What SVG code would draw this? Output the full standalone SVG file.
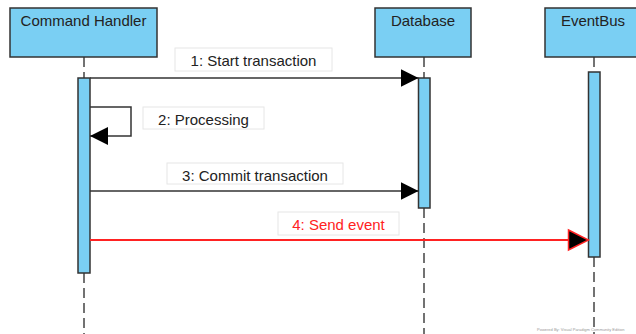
<svg xmlns="http://www.w3.org/2000/svg" width="636" height="334" viewBox="0 0 636 334">
<style>
.hd{fill:#7acff3;stroke:#333;stroke-width:1.5}
.act{fill:#7acff3;stroke:#333;stroke-width:1.5}
.life{stroke:#444;stroke-width:1.5;stroke-dasharray:10,5;fill:none}
.t{font-family:"Liberation Sans",Arial,sans-serif;font-size:15px;fill:#222}
.lb{fill:#fff;stroke:#e6e6e6;stroke-width:1}
.msg{stroke:#333;stroke-width:1.5;fill:none}
</style>
<defs>
<marker id="ah" viewBox="0 0 18 18" refX="18" refY="9" markerWidth="18" markerHeight="18" markerUnits="userSpaceOnUse" orient="auto">
<path d="M0,0 L18,9 L0,18 Z" fill="#000"/>
</marker>
<marker id="ahr" viewBox="-2 -2 23 24" refX="20" refY="10" markerWidth="23" markerHeight="24" markerUnits="userSpaceOnUse" orient="auto">
<path d="M0,0 L20,10 L0,20 Z" fill="#000" stroke="#f22" stroke-width="1.5"/>
</marker>
</defs>
<rect width="636" height="334" fill="#fff"/>
<g id="lifelines">
<line class="life" x1="84" y1="57" x2="84" y2="78"/>
<line class="life" x1="84" y1="273" x2="84" y2="334"/>
<line class="life" x1="424" y1="57" x2="424" y2="78"/>
<line class="life" x1="424" y1="208" x2="424" y2="334"/>
<line class="life" x1="594" y1="57" x2="594" y2="72"/>
<line class="life" x1="594" y1="257" x2="594" y2="334"/>
</g>
<g id="command-handler">
<rect class="hd" x="10" y="8" width="147" height="49"/>
<text class="t" x="83.5" y="26" text-anchor="middle">Command Handler</text>
<rect class="act" x="78" y="78" width="12" height="195"/>
</g>
<g id="database">
<rect class="hd" x="375" y="8" width="96" height="49"/>
<text class="t" x="423" y="26" text-anchor="middle">Database</text>
<rect class="act" x="418.5" y="78" width="11.5" height="130"/>
</g>
<g id="eventbus">
<rect class="hd" x="545" y="8" width="93" height="49"/>
<text class="t" x="593" y="26" text-anchor="middle">EventBus</text>
<rect class="act" x="588.5" y="72" width="11.5" height="185"/>
</g>
<g id="connectors">
<line class="msg" x1="90" y1="78" x2="418.5" y2="78" marker-end="url(#ah)"/>
<rect class="lb" x="175" y="48" width="157" height="23"/>
<text class="t" x="253.5" y="66" text-anchor="middle">1: Start transaction</text>
<polyline class="msg" points="90,107 131,107 131,136 90,136" marker-end="url(#ah)"/>
<rect class="lb" x="143" y="107" width="121" height="22"/>
<text class="t" x="203.5" y="125" text-anchor="middle">2: Processing</text>
<line class="msg" x1="90" y1="191" x2="418.5" y2="191" marker-end="url(#ah)"/>
<rect class="lb" x="167" y="163" width="176" height="21"/>
<text class="t" x="255" y="181" text-anchor="middle">3: Commit transaction</text>
<line x1="90" y1="240" x2="588.5" y2="240" stroke="#f22" stroke-width="2" marker-end="url(#ahr)"/>
<rect class="lb" x="278" y="212" width="121" height="23"/>
<text class="t" x="338.5" y="230" text-anchor="middle" style="fill:#f22">4: Send event</text>
</g>
<text x="537" y="331" style="font-family:'Liberation Sans',Arial,sans-serif;font-size:4px;fill:#999">Powered By: Visual Paradigm Community Edition</text>
</svg>
